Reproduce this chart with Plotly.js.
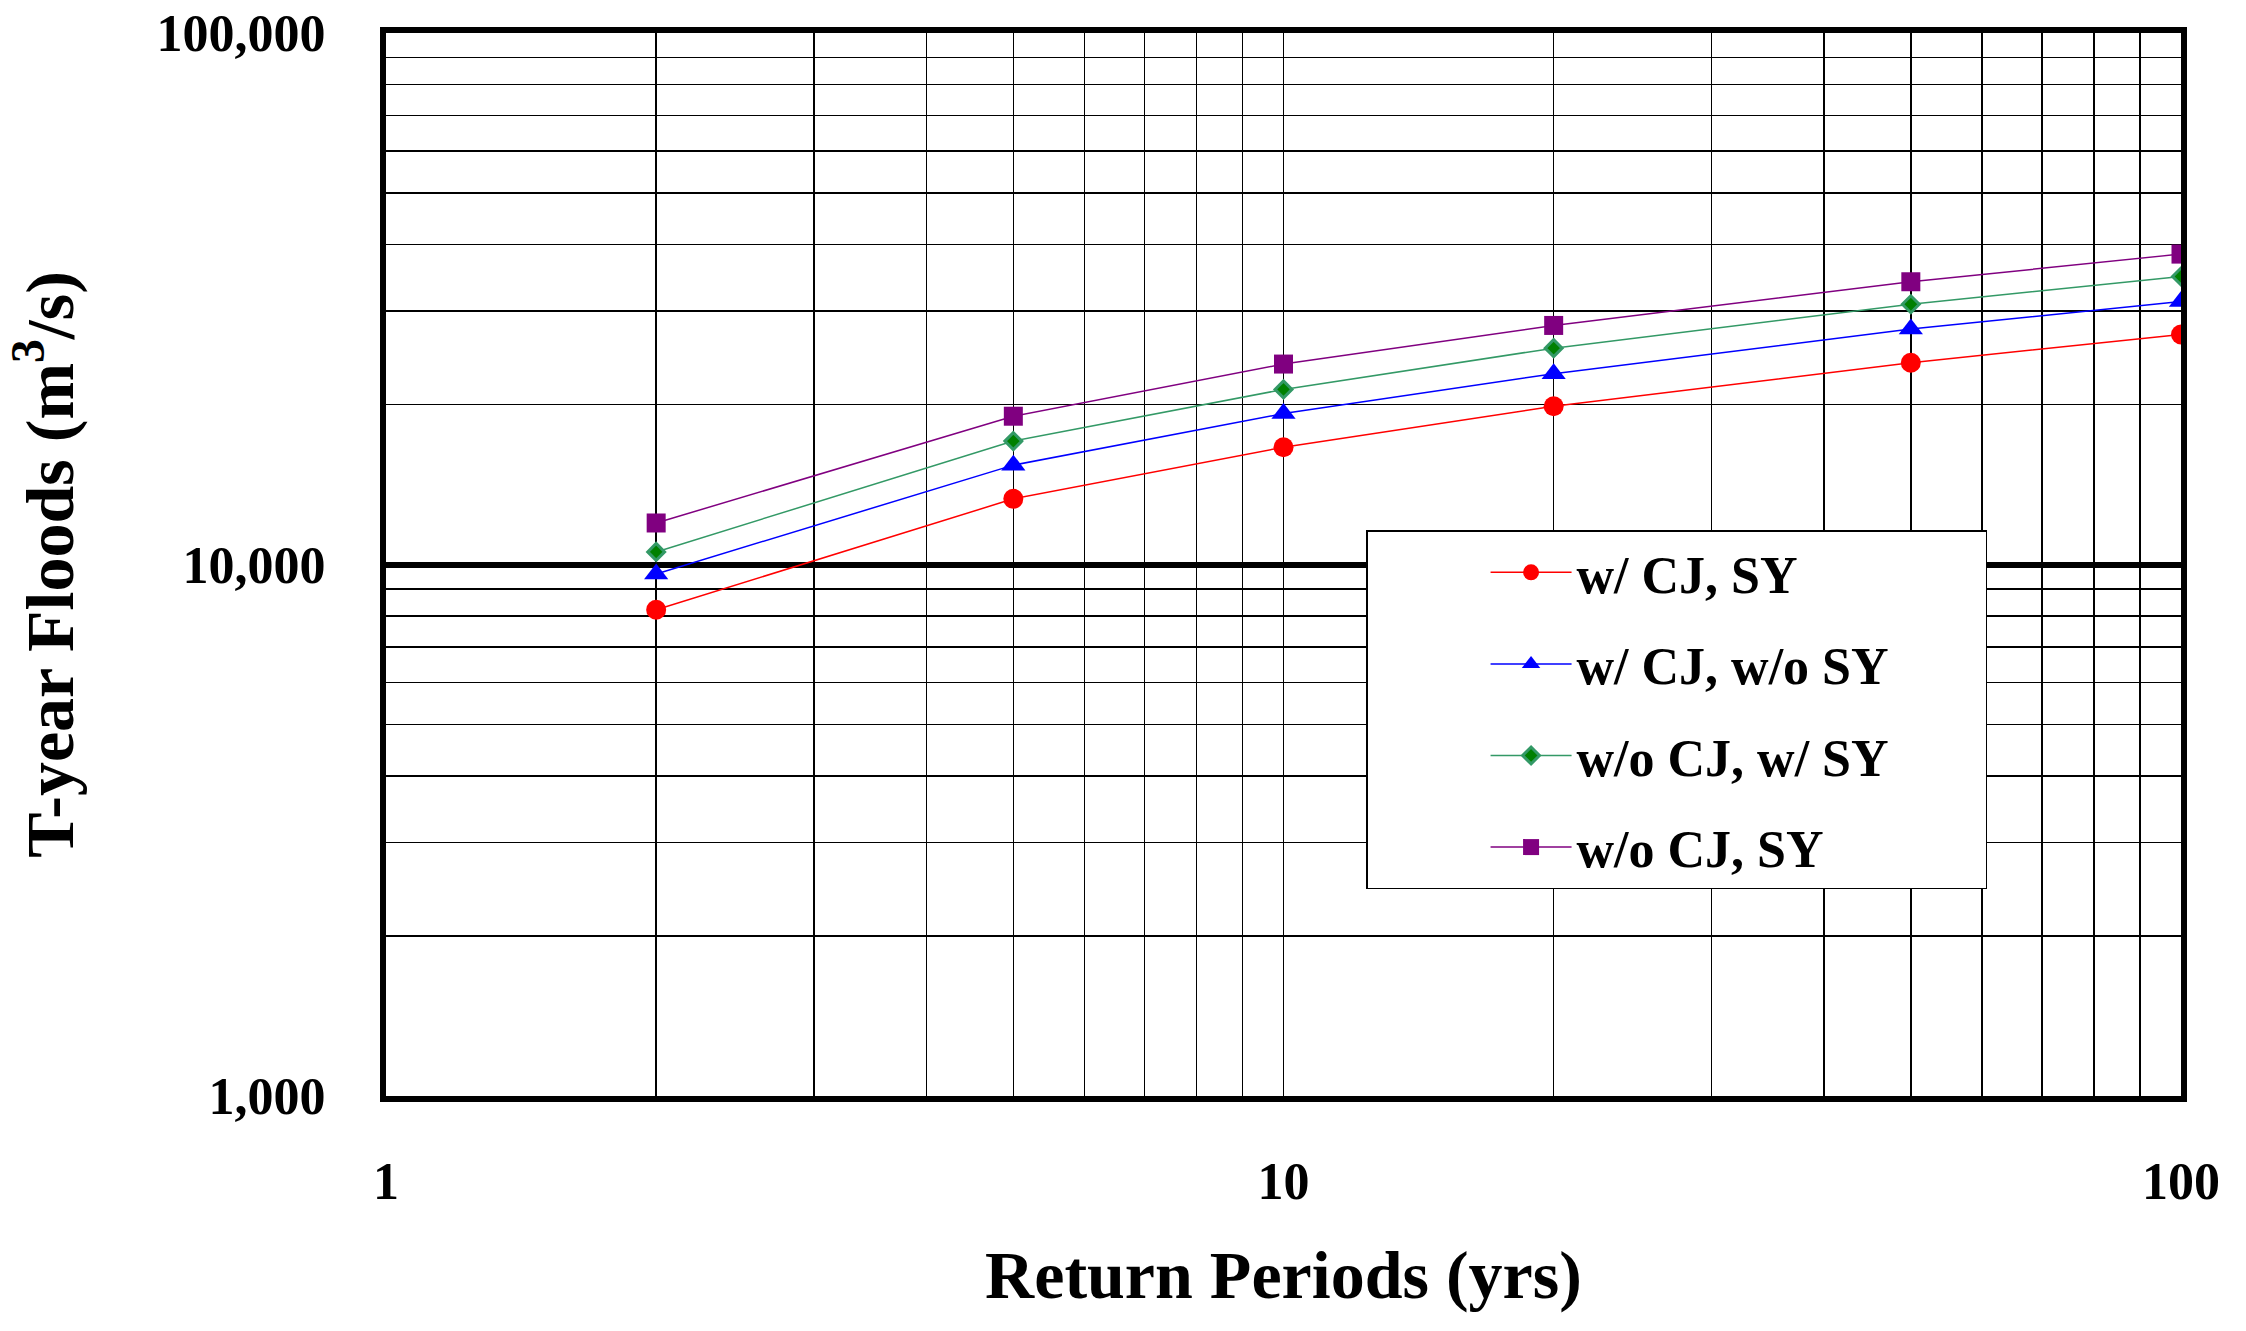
<!DOCTYPE html>
<html>
<head>
<meta charset="utf-8">
<script src="https://cdn.plot.ly/plotly-3.0.1.min.js"></script>
<style>html,body{margin:0;padding:0;background:#fff;}#chart{width:2246px;height:1331px;}</style>
</head>
<body>
<div id="chart"></div>
<script>
// Return periods (years)
const returnPeriods = [2, 5, 10, 20, 50, 100];
// T-year floods (m3/s)
const wCJ_SY   = [8220, 13290, 16620, 19850, 23970, 27090];
const wCJ_woSY = [9600, 15380, 19230, 22860, 27730, 31260];
const woCJ_wSY = [10560, 17070, 21350, 25530, 30880, 34830];
const woCJ_SY  = [11970, 19010, 23830, 28170, 34040, 38370];

const seriesNames = ["w/ CJ, SY", "w/ CJ, w/o SY", "w/o CJ, w/ SY", "w/o CJ, SY"];
const xTickVals = [1, 10, 100];
const xTickText = ["1", "10", "100"];
const yTickVals = [1000, 10000, 100000];
const yTickText = ["1,000", "10,000", "100,000"];

const FONT = "'Liberation Serif', 'Times New Roman', serif";
// trailing non-breaking spaces reproduce the legend box's right padding
const PAD = "\u00A0".repeat(7);

const traces = [
  {x: returnPeriods, y: wCJ_SY, name: seriesNames[0] + PAD, legendgroup: "a", mode: "lines+markers",
   line: {color: "#FF0000", width: 1.5},
   marker: {symbol: "circle", size: 20, color: "#FF0000"}},
  {x: returnPeriods, y: wCJ_woSY, name: seriesNames[1] + PAD, legendgroup: "b", mode: "lines+markers",
   line: {color: "#0000FF", width: 1.5},
   marker: {symbol: "triangle-up", size: 21, color: "#0000FF"}},
  {x: returnPeriods, y: woCJ_wSY, name: seriesNames[2] + PAD, legendgroup: "c", mode: "lines+markers",
   line: {color: "#339966", width: 1.5},
   marker: {symbol: "diamond", size: 13, color: "#008000", line: {color: "#339966", width: 3}}},
  {x: returnPeriods, y: woCJ_SY, name: seriesNames[3] + PAD, legendgroup: "d", mode: "lines+markers",
   line: {color: "#800080", width: 1.5},
   marker: {symbol: "square", size: 19, color: "#800080"}}
];

const layout = {
  width: 2246, height: 1331,
  paper_bgcolor: "#fff", plot_bgcolor: "#fff",
  margin: {l: 386, r: 65, t: 33, b: 235},
  font: {family: FONT, color: "#000", size: 52, weight: "bold"},
  showlegend: true,
  legend: {
    x: 0.546, y: 0.532, xanchor: "left", yanchor: "top",
    bgcolor: "#fff", bordercolor: "#000", borderwidth: 1.5,
    font: {family: FONT, size: 52, color: "#000", weight: "bold"},
    tracegroupgap: 21,
    indentation: 118,
    itemwidth: 81
  },
  xaxis: {
    type: "log", range: [0, 2],
    tickvals: xTickVals, ticktext: xTickText,
    showgrid: true, gridcolor: "#000", gridwidth: 1.5,
    minor: {dtick: "D1", showgrid: true, gridcolor: "#000", gridwidth: 1.5, ticks: ""},
    showline: true, linecolor: "#000", linewidth: 6, mirror: true,
    ticks: "", ticklabelstandoff: 35,
    tickfont: {family: FONT, size: 52, color: "#000", weight: "bold"},
    zeroline: false,
    title: {text: "Return Periods (yrs)", standoff: 43,
            font: {family: FONT, size: 68, color: "#000", weight: "bold"}}
  },
  yaxis: {
    type: "log", range: [3, 5],
    tickvals: yTickVals, ticktext: yTickText,
    showgrid: true, gridcolor: "#000", gridwidth: 6,
    minor: {dtick: "D1", showgrid: true, gridcolor: "#000", gridwidth: 1.5, ticks: ""},
    showline: true, linecolor: "#000", linewidth: 6, mirror: true,
    ticks: "", ticklabelstandoff: 44,
    tickfont: {family: FONT, size: 52, color: "#000", weight: "bold"},
    zeroline: false,
    title: {text: "T-year Floods (m<sup>3</sup>/s)", standoff: 63,
            font: {family: FONT, size: 68, color: "#000", weight: "bold"}}
  }
};

Plotly.newPlot("chart", traces, layout, {staticPlot: true, displayModeBar: false});
</script>
</body>
</html>
